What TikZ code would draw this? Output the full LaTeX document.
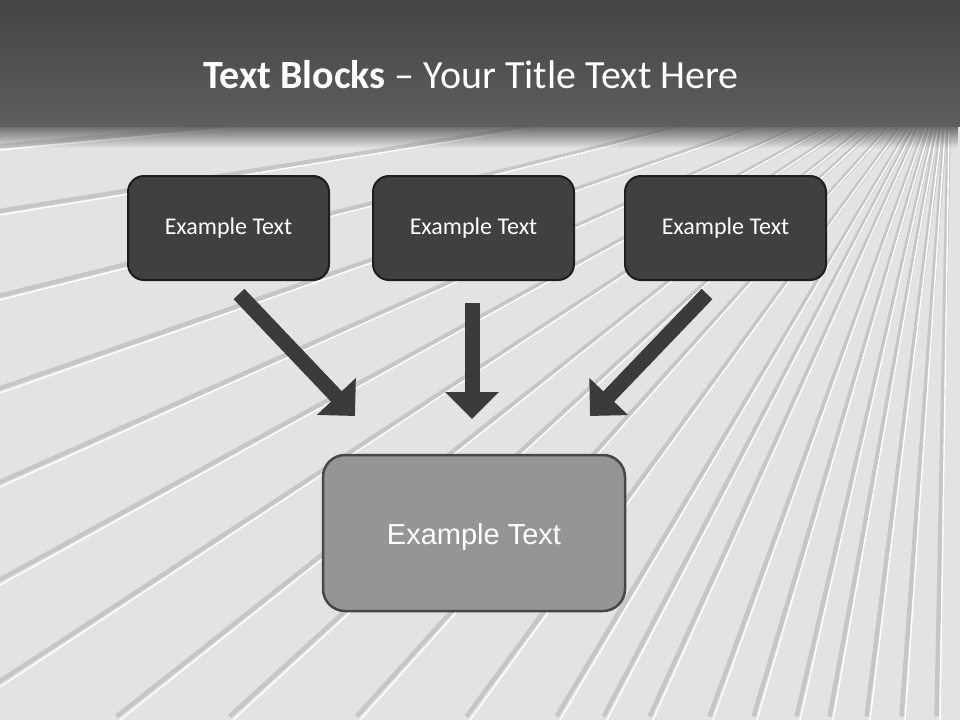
\documentclass[tikz,border=0pt]{standalone}
\usepackage{fontspec}
\setmainfont{Carlito}
\newfontfamily\boxfont{Liberation Sans}
\usetikzlibrary{arrows.meta,fadings}
\definecolor{topdark}{HTML}{444444}
\definecolor{topmid}{HTML}{5E5E5E}
\definecolor{floorA}{HTML}{D2D2D2}
\definecolor{floorB}{HTML}{E3E3E3}
\definecolor{ribshadow}{HTML}{C6C6C6}
\definecolor{boxdark}{HTML}{404040}
\definecolor{boxedge}{HTML}{1E1E1E}
\definecolor{boxgray}{HTML}{959595}
\definecolor{boxgrayedge}{HTML}{474747}
\definecolor{arrowc}{HTML}{3B3B3B}
\tikzset{
  topbox/.style={draw=boxedge, line width=2pt, fill=boxdark, rounded corners=16pt,
    minimum width=201pt, minimum height=104pt, text=white, font=\fontsize{24}{28}\selectfont, inner sep=0pt},
  bottombox/.style={draw=boxgrayedge, line width=2.5pt, fill=boxgray, rounded corners=22pt,
    minimum width=302pt, minimum height=156pt, text=white, font=\boxfont\fontsize{29}{34}\selectfont, inner sep=0pt},
  blockarrow/.style={draw=arrowc, line width=15pt, -{Triangle[width=52pt,length=27pt]}},
  rib/.style={white, line width=1.4pt},
  ribdark/.style={ribshadow, line width=4.5pt}
}
\begin{document}
\begin{tikzpicture}[x=1pt,y=-1pt]
\useasboundingbox (0,0) rectangle (960,720);
% background floor
\fill[floorB] (0,120) rectangle (960,720);
\begin{scope}
\clip (0,125) rectangle (960,720);
\coordinate (V) at (950,60);
\foreach \a/\b in {0/150,0/215,0/300,0/393,0/487,0/585,0/687,120/720,233/720,360/720,470/720,560/720,607/720,653/720,713/720,757/720,800/720,833/720,870/720,905/720,940/720}{
  \coordinate (q) at (\a,\b);
  \draw[ribdark] (V) -- ([xshift=-3.5pt,yshift=3.5pt]q);
  \draw[rib] (V) -- (q);
}
\fill[topmid, path fading=south] (0,124) rectangle (960,148);
\end{scope}
\shade[top color=topdark, bottom color=topmid] (0,0) rectangle (960,126);
% title
\node[text=white, font=\fontsize{40}{46}\selectfont] (title) at (471,75) {\textbf{Text Blocks} – Your Title Text Here};
% boxes
\node[topbox] (b1) at (228.5,228) {Example Text};
\node[topbox] (b2) at (473.5,228) {Example Text};
\node[topbox] (b3) at (725.5,228) {Example Text};
\node[bottombox] (b4) at (474,533) {\raisebox{-11pt}[0pt][0pt]{Example Text}};
% arrows
\coordinate (a1s) at (239,294);
\coordinate (a1t) at (355,416);
\coordinate (a2s) at (472,303);
\coordinate (a2t) at (472,419);
\coordinate (a3s) at (707,294);
\coordinate (a3t) at (590,416);
\draw[blockarrow] (a1s) -- (a1t);
\draw[blockarrow] (a2s) -- (a2t);
\draw[blockarrow] (a3s) -- (a3t);
\end{tikzpicture}
\end{document}
